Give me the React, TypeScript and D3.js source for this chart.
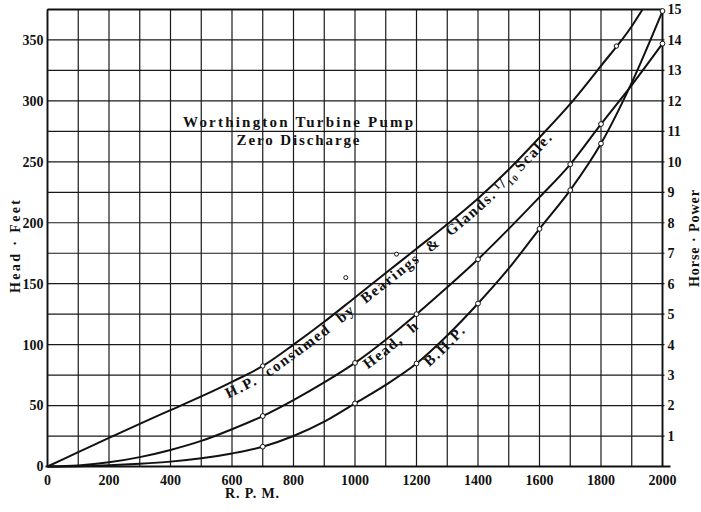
import React from 'react';
import * as d3 from 'd3';

// readings (rpm every 100)
const rpmSteps = [0, 100, 200, 300, 400, 500, 600, 700, 800, 900, 1000, 1100, 1200, 1300, 1400, 1500, 1600, 1700, 1800, 1900, 2000];
const headFeet = [0, 0.9, 3.4, 7.7, 13.6, 21, 30.6, 41.4, 54.5, 69, 85, 104, 125, 147, 170, 195, 221, 248, 281, 313, 347];
const brakeHp = [0, 0.01, 0.04, 0.09, 0.16, 0.27, 0.43, 0.65, 1.0, 1.47, 2.07, 2.68, 3.38, 4.3, 5.35, 6.5, 7.8, 9.07, 10.6, 12.6, 14.95];

// H.P. consumed by bearings & glands (1/10 scale), runs off the top near 1935
const bearingRpm = [0, 100, 200, 300, 400, 500, 600, 700, 800, 900, 1000, 1100, 1200, 1300, 1400, 1500, 1600, 1700, 1800, 1900, 1935];
const bearingHp = [0, 0.47, 0.94, 1.4, 1.85, 2.3, 2.78, 3.3, 4.0, 4.75, 5.55, 6.35, 7.15, 7.95, 8.8, 9.75, 10.8, 11.9, 13.15, 14.45, 15];

const headMarks = [700, 1000, 1200, 1400, 1700, 1800, 2000];
const bhpMarks = [700, 1000, 1200, 1400, 1600, 1700, 1800, 2000];
const bearingMarks = [700, 1850];
const bearingMarkHp = [3.3, 13.8];
const strayRpm = [970, 1135];
const strayHp = [6.2, 6.97];

const rpmTicks = [0, 200, 400, 600, 800, 1000, 1200, 1400, 1600, 1800, 2000];
const feetTicks = [0, 50, 100, 150, 200, 250, 300, 350];
const hpTicks = [1, 2, 3, 4, 5, 6, 7, 8, 9, 10, 11, 12, 13, 14, 15];

const W = 701;
const H = 512;
const font = '"Liberation Serif", "DejaVu Serif", serif';
const ink = '#111';

const App: React.FC = () => {
  const x = d3.scaleLinear().domain([0, 2000]).range([47.5, 662.5]);
  const yFt = d3.scaleLinear().domain([0, 375]).range([466.5, 9.5]);
  const yHp = d3.scaleLinear().domain([0, 15]).range([466.5, 9.5]);

  const headPts: [number, number][] = rpmSteps.map((r, i) => [x(r), yFt(headFeet[i])]);
  const bhpPts: [number, number][] = rpmSteps.map((r, i) => [x(r), yHp(brakeHp[i])]);
  const bearingPts: [number, number][] = bearingRpm.map((r, i) => [x(r), yHp(bearingHp[i])]);

  const line = d3.line<[number, number]>().curve(d3.curveMonotoneX);
  const shifted = (pts: [number, number][], from: number, dy: number) =>
    line(pts.filter(p => p[0] >= x(from)).map(p => [p[0], p[1] + dy] as [number, number])) || '';

  const gridRpm = d3.range(0, 2001, 100);
  const gridFt = d3.range(0, 376, 25);

  return (
    <svg width={W} height={H} style={{ position: 'absolute', left: 0, top: 0, background: '#fff' }}>
      <defs>
        <path id="lblBearing" d={shifted(bearingPts, 500, 15)} />
        <path id="lblHead" d={shifted(headPts, 1000, 16)} />
        <path id="lblBhp" d={shifted(bhpPts, 1200, 15)} />
      </defs>

      {/* grid */}
      <g stroke="#1a1a1a" strokeWidth={1.2}>
        {gridRpm.map(r => (
          <line key={'v' + r} x1={x(r)} x2={x(r)} y1={yFt(0)} y2={yFt(375)} />
        ))}
        {gridFt.map(f => (
          <line key={'h' + f} x1={x(0)} x2={x(2000) + 2} y1={yFt(f)} y2={yFt(f)} />
        ))}
      </g>

      {/* frame */}
      <g stroke={ink} strokeWidth={1.8} fill="none">
        <line x1={x(0)} x2={x(0)} y1={yFt(0)} y2={yFt(375)} />
        <line x1={x(2000)} x2={x(2000)} y1={yFt(0)} y2={yFt(375)} />
        <line x1={x(0)} x2={x(2000)} y1={yFt(375)} y2={yFt(375)} />
        <line x1={x(0) - 2} x2={x(2000) + 8} y1={yFt(0)} y2={yFt(0)} />
      </g>

      {/* curves */}
      <g fill="none" stroke={ink} strokeWidth={2}>
        <path d={line(bearingPts) || ''} />
        <path d={line(headPts) || ''} />
        <path d={line(bhpPts) || ''} />
      </g>

      {/* observation marks */}
      <g fill="#fff" stroke={ink} strokeWidth={1}>
        {headMarks.map(r => (
          <circle key={'hm' + r} cx={x(r)} cy={yFt(headFeet[rpmSteps.indexOf(r)])} r={2.4} />
        ))}
        {bhpMarks.map(r => (
          <circle key={'bm' + r} cx={x(r)} cy={yHp(brakeHp[rpmSteps.indexOf(r)])} r={2.4} />
        ))}
        {bearingMarks.map((r, i) => (
          <circle key={'gm' + r} cx={x(r)} cy={yHp(bearingMarkHp[i])} r={2.2} />
        ))}
        {strayRpm.map((r, i) => (
          <circle key={'s' + r} cx={x(r)} cy={yHp(strayHp[i])} r={2} />
        ))}
      </g>

      {/* curve labels */}
      <g fontFamily={font} fontWeight="bold" fill={ink}>
        <text fontSize={15} letterSpacing={1.8} wordSpacing={6}>
          <textPath href="#lblBearing" startOffset={30}>
            H.P. consumed by Bearings &amp; Glands.
            <tspan dx={4} dy={-4} fontSize={9}>1</tspan>
            <tspan dy={3} fontSize={16}>/</tspan>
            <tspan dy={4} fontSize={9}>10</tspan>
            <tspan dx={4} dy={-3}>Scale.</tspan>
          </textPath>
        </text>
        <text fontSize={15} letterSpacing={1.6} wordSpacing={6}>
          <textPath href="#lblHead" startOffset={16}>Head, h</textPath>
        </text>
        <text fontSize={15} letterSpacing={2}>
          <textPath href="#lblBhp" startOffset={17}>B.H.P.</textPath>
        </text>
      </g>

      {/* title */}
      <g fontFamily={font} fontWeight="bold" fill={ink} fontSize={15} textAnchor="middle">
        <text x={298} y={126.5} textLength={230} lengthAdjust="spacing">Worthington Turbine Pump</text>
        <text x={298} y={145} textLength={123} lengthAdjust="spacing">Zero Discharge</text>
      </g>

      {/* tick labels */}
      <g fontFamily={font} fontWeight="bold" fill={ink} fontSize={14}>
        {feetTicks.map(f => (
          <text key={'fl' + f} x={x(0) - 4} y={yFt(f)} dy="0.35em" textAnchor="end">{f}</text>
        ))}
        {hpTicks.map(h => (
          <text key={'hl' + h} x={x(2000) + 5} y={yHp(h)} dy="0.35em" textAnchor="start">{h}</text>
        ))}
        {rpmTicks.map(r => (
          <text key={'rl' + r} x={x(r)} y={485} textAnchor="middle">{r}</text>
        ))}
      </g>

      {/* axis titles */}
      <g fontFamily={font} fontWeight="bold" fill={ink} fontSize={14} textAnchor="middle">
        <text x={252} y={498} textLength={54} lengthAdjust="spacing">R. P. M.</text>
        <text transform="translate(20,246.5) rotate(-90)" textLength={93} lengthAdjust="spacing">Head · Feet</text>
        <text transform="translate(699,238.5) rotate(-90)" textLength={97} lengthAdjust="spacing">Horse · Power</text>
      </g>
    </svg>
  );
};

export default App;
